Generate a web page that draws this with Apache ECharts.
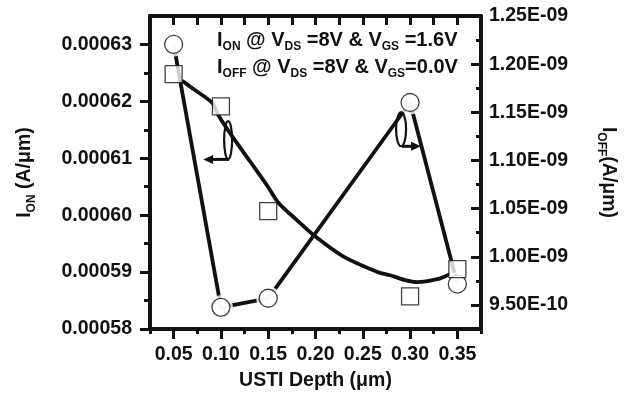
<!DOCTYPE html>
<html>
<head>
<meta charset="utf-8">
<script src="https://cdn.jsdelivr.net/npm/echarts@6.0.0/dist/echarts.min.js"></script>
<style>
  html, body { margin: 0; padding: 0; background: #fff; }
  #chart { width: 629px; height: 396px; }
</style>
</head>
<body>
<div id="chart"></div>
<script>
// USTI depth (um) and the measured points
var depth = [0.05, 0.10, 0.15, 0.30, 0.35];
var ionValues = [0.000630, 0.0005838, 0.0005854, 0.0006198, 0.0005879];
var ioffValues = [1.1896e-9, 1.1561e-9, 1.0474e-9, 0.9588e-9, 0.9871e-9];

// fitted I_OFF curve
var fitDepth = [0.0590, 0.0706, 0.0907, 0.0970, 0.1129, 0.1309, 0.1488, 0.1605, 0.1795,
                0.1996, 0.2292, 0.2662, 0.2789, 0.2948, 0.3075, 0.3286, 0.3424];
var fitIoff = [1.1827e-9, 1.1744e-9, 1.1599e-9, 1.1475e-9, 1.1237e-9, 1.0989e-9, 1.0740e-9, 1.0564e-9, 1.0388e-9,
               1.0212e-9, 1.0005e-9, 0.9840e-9, 0.9808e-9, 0.9757e-9, 0.9736e-9, 0.9767e-9, 0.9819e-9];

// ticks
var xMajorTicks = [0.05, 0.10, 0.15, 0.20, 0.25, 0.30, 0.35];
var xMinorTicks = [0.025, 0.075, 0.125, 0.175, 0.225, 0.275, 0.325, 0.375];
var ionMajorTicks = [0.00058, 0.00059, 0.00060, 0.00061, 0.00062, 0.00063];
var ionMinorTicks = [0.000585, 0.000595, 0.000605, 0.000615, 0.000625];
var ioffMajorTicks = [9.5e-10, 1.0e-9, 1.05e-9, 1.1e-9, 1.15e-9, 1.2e-9, 1.25e-9];
var ioffMinorTicks = [9.75e-10, 1.025e-9, 1.075e-9, 1.125e-9, 1.175e-9, 1.225e-9];

var FONT = 'Liberation Sans, Arial, sans-serif';
var INK = '#111';
var txt = { fontFamily: FONT, fontWeight: 'bold', color: INK, fontSize: 19.5 };

function sciLabel(v) {
  var p = v.toExponential(2).split('e');
  var e = parseInt(p[1], 10);
  var s = (e < 0 ? '-' : '+') + (Math.abs(e) < 10 ? '0' : '') + Math.abs(e);
  return p[0] + 'E' + s;
}

function pairs(xs, ys) {
  return xs.map(function (x, i) { return [x, ys[i]]; });
}

var axisLine = { show: true, lineStyle: { color: INK, width: 4 } };
var tickLine = { color: INK, width: 3 };
var richName = {
  m: { fontFamily: FONT, fontWeight: 'bold', color: INK, fontSize: 19.5, lineHeight: 26, verticalAlign: 'middle' },
  s: { fontFamily: FONT, fontWeight: 'bold', color: INK, fontSize: 12, lineHeight: 12, verticalAlign: 'bottom' }
};

function minorAxis(pos, min, max, ticks, len, inside) {
  return {
    type: 'value', position: pos, min: min, max: max,
    axisLine: { show: false },
    axisTick: { show: true, inside: inside, length: len, lineStyle: tickLine, customValues: ticks },
    axisLabel: { show: false },
    splitLine: { show: false }
  };
}

var chart = echarts.init(document.getElementById('chart'));

chart.setOption({
  animation: false,
  backgroundColor: '#fff',
  grid: { left: 150, top: 16, width: 331, height: 314 },
  xAxis: [
    {
      type: 'value', position: 'bottom', min: 0.025, max: 0.375,
      axisLine: axisLine,
      axisTick: { show: true, length: 10, lineStyle: tickLine, customValues: xMajorTicks },
      axisLabel: Object.assign({ customValues: xMajorTicks, margin: 16, formatter: function (v) { return v.toFixed(2); } }, txt),
      splitLine: { show: false },
      name: 'USTI Depth (μm)', nameLocation: 'middle', nameGap: 42,
      nameTextStyle: txt
    },
    minorAxis('bottom', 0.025, 0.375, xMinorTicks, 5, false),
    {
      type: 'value', position: 'top', min: 0.025, max: 0.375,
      axisLine: axisLine,
      axisTick: { show: true, inside: true, length: 9, lineStyle: tickLine, customValues: xMajorTicks.concat(xMinorTicks) },
      axisLabel: { show: false },
      splitLine: { show: false }
    }
  ],
  yAxis: [
    {
      type: 'value', position: 'left', min: 0.00058, max: 0.000635,
      axisLine: axisLine,
      axisTick: { show: true, length: 10, lineStyle: tickLine, customValues: ionMajorTicks },
      axisLabel: Object.assign({ customValues: ionMajorTicks, margin: 18, formatter: function (v) { return v.toFixed(5); } }, txt),
      splitLine: { show: false },
      name: '{m|I}{s|ON}{m| (A/μm)}', nameLocation: 'middle', nameGap: 112, nameRotate: 90,
      nameTextStyle: { rich: richName }
    },
    minorAxis('left', 0.00058, 0.000635, ionMinorTicks, 6, false),
    {
      type: 'value', position: 'right', min: 9.25e-10, max: 1.25e-9,
      axisLine: axisLine,
      axisTick: { show: true, inside: true, length: 10, lineStyle: tickLine, customValues: ioffMajorTicks },
      axisLabel: Object.assign({ customValues: ioffMajorTicks, margin: 8, formatter: sciLabel }, txt),
      splitLine: { show: false },
      name: '{m|I}{s|OFF}{m|(A/μm)}', nameLocation: 'middle', nameGap: 114, nameRotate: -90,
      nameTextStyle: { rich: richName }
    },
    minorAxis('right', 9.25e-10, 1.25e-9, ioffMinorTicks, 5, true)
  ],
  series: [
    {
      name: 'I_ON', type: 'line', xAxisIndex: 0, yAxisIndex: 0,
      data: pairs(depth, ionValues), symbol: 'none',
      lineStyle: { color: INK, width: 3.8 }, z: 2
    },
    {
      name: 'I_OFF fit', type: 'line', xAxisIndex: 0, yAxisIndex: 2,
      data: pairs(fitDepth, fitIoff), symbol: 'none', smooth: 0.3,
      lineStyle: { color: INK, width: 3.8 }, z: 2
    },
    {
      name: 'halo', type: 'scatter', xAxisIndex: 0, yAxisIndex: 0,
      data: pairs(depth, ionValues), symbol: 'circle', symbolSize: 24,
      itemStyle: { color: '#fff' }, silent: true, z: 3
    },
    {
      name: 'I_ON points', type: 'scatter', xAxisIndex: 0, yAxisIndex: 0,
      data: pairs(depth, ionValues), symbol: 'circle', symbolSize: 18,
      itemStyle: { color: '#fff', borderColor: INK, borderWidth: 1.3 }, z: 4
    },
    {
      name: 'I_OFF points', type: 'scatter', xAxisIndex: 0, yAxisIndex: 2,
      data: pairs(depth, ioffValues), symbol: 'rect', symbolSize: 17,
      itemStyle: { color: '#fff', borderColor: INK, borderWidth: 1.3 }, z: 4
    }
  ]
});

// legend text and the two "which axis" arrows
var legendRich = {
  m: { fontFamily: FONT, fontWeight: 'bold', fill: INK, fontSize: 20, lineHeight: 26, verticalAlign: 'middle' },
  s: { fontFamily: FONT, fontWeight: 'bold', fill: INK, fontSize: 12, lineHeight: 12, verticalAlign: 'bottom' }
};
var arrowNotes = [
  { loop: [0.1076, 0.0006132], from: [0.1087, 0.0006098], to: [0.0812, 0.0006098], rx: 4, ry: 19 },
  { loop: [0.2905, 0.0006151], from: [0.2915, 0.0006121], to: [0.3116, 0.0006121], rx: 5, ry: 17 }
];

var graphics = [
  { type: 'text', left: 217, top: 30, style: { rich: legendRich, text: '{m|I}{s|ON}{m| @ V}{s|DS}{m| =8V & V}{s|GS}{m| =1.6V}' } },
  { type: 'text', left: 217, top: 57, style: { rich: legendRich, text: '{m|I}{s|OFF}{m| @ V}{s|DS}{m| =8V & V}{s|GS}{m|=0.0V}' } }
];
arrowNotes.forEach(function (n) {
  var c = chart.convertToPixel({ xAxisIndex: 0, yAxisIndex: 0 }, n.loop);
  var a = chart.convertToPixel({ xAxisIndex: 0, yAxisIndex: 0 }, n.from);
  var b = chart.convertToPixel({ xAxisIndex: 0, yAxisIndex: 0 }, n.to);
  var dir = b[0] > a[0] ? 1 : -1;
  graphics.push({ type: 'ellipse', shape: { cx: c[0], cy: c[1], rx: n.rx, ry: n.ry }, style: { fill: null, stroke: INK, lineWidth: 2.2 }, z: 10 });
  graphics.push({ type: 'line', shape: { x1: a[0], y1: a[1], x2: b[0] - dir * 6, y2: b[1] }, style: { stroke: INK, lineWidth: 3 }, z: 10 });
  graphics.push({ type: 'polygon', shape: { points: [[b[0], b[1]], [b[0] - dir * 10, b[1] - 4.5], [b[0] - dir * 10, b[1] + 4.5]] }, style: { fill: INK }, z: 10 });
});
chart.setOption({ graphic: graphics });
</script>
</body>
</html>
